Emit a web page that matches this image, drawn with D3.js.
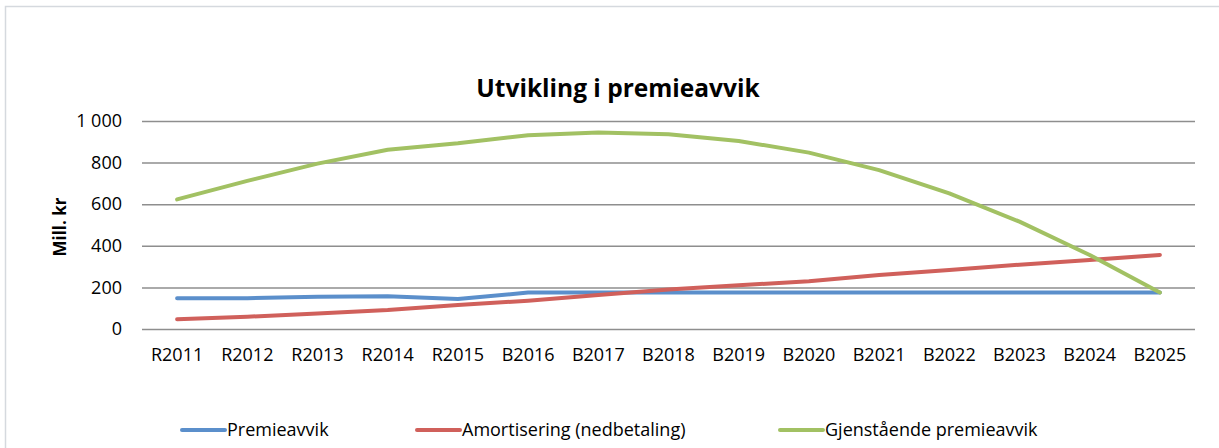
<!DOCTYPE html>
<meta charset="utf-8">
<style>
  body { margin: 0; background: #fff; }
  svg text { font-family: "Open Sans", sans-serif; fill: #000; }
</style>
<script src="https://cdnjs.cloudflare.com/ajax/libs/d3/7.8.5/d3.min.js"></script>
<div id="chart"></div>
<script>
// categories and series (Mill. kr)
var years = ["R2011","R2012","R2013","R2014","R2015","B2016","B2017","B2018",
             "B2019","B2020","B2021","B2022","B2023","B2024","B2025"];
var premieavvik = [148,148,155,158,144,175,175,175,175,175,175,175,175,175,175];
var amortisering = [47,59,75,91,115,136,163,190,210,230,260,284,309,332,356];
var gjenstaende = [623,712,795,862,893,932,945,936,904,848,764,652,516,356,175];
var yTicks = [0,200,400,600,800,1000];

var series = [
  {name: "Premieavvik", values: premieavvik, color: "#5b8fcb"},
  {name: "Amortisering (nedbetaling)", values: amortisering, color: "#d0605b"},
  {name: "Gjenstående premieavvik", values: gjenstaende, color: "#a2c163"}
];

var W = 1219, H = 448;
var margin = {top: 121, right: 24, bottom: 119, left: 142};

var svg = d3.select("#chart").append("svg")
    .attr("width", W)
    .attr("height", H);

// chart frame
svg.append("path")
    .attr("d", "M5.5," + H + "V6.5H" + W)
    .attr("fill", "none")
    .attr("stroke", "#d5d9de")
    .attr("stroke-width", 1.5);

var x = d3.scaleBand()
    .domain(years)
    .range([margin.left, W - margin.right]);

var y = d3.scaleLinear()
    .domain([0, 1000])
    .range([H - margin.bottom, margin.top]);

// gridlines + y labels
var yAxis = svg.append("g")
    .attr("transform", "translate(" + margin.left + ",0)")
    .call(d3.axisLeft(y)
      .tickValues(yTicks)
      .tickSize(-(W - margin.right - margin.left))
      .tickPadding(20)
      .tickFormat(function(d) { return d3.format(",")(d).replace(",", " "); }));
yAxis.select(".domain").remove();
yAxis.selectAll("line").attr("stroke", "#8e8e8e").attr("stroke-width", 1.5);
yAxis.selectAll("text").attr("font-size", 18).attr("font-family", "Open Sans");

// x labels
var xAxis = svg.append("g")
    .attr("transform", "translate(0," + (H - margin.bottom) + ")")
    .call(d3.axisBottom(x).tickSize(0).tickPadding(19));
xAxis.select(".domain").remove();
xAxis.selectAll("text").attr("font-size", 18).attr("font-family", "Open Sans");

// lines
var line = d3.line()
    .x(function(d, i) { return x(years[i]) + x.bandwidth() / 2; })
    .y(function(d) { return y(d); });

svg.selectAll(".myLine")
  .data(series)
  .enter()
  .append("path")
    .attr("class", "myLine")
    .attr("d", function(d) { return line(d.values); })
    .attr("fill", "none")
    .attr("stroke", function(d) { return d.color; })
    .attr("stroke-width", 4)
    .attr("stroke-linejoin", "round")
    .attr("stroke-linecap", "round");

// title
svg.append("text")
    .attr("x", 618)
    .attr("y", 97)
    .attr("text-anchor", "middle")
    .attr("font-size", 24.5)
    .attr("font-weight", "bold")
    .text("Utvikling i premieavvik");

// y axis title
svg.append("text")
    .attr("transform", "translate(66,227) rotate(-90)")
    .attr("text-anchor", "middle")
    .attr("font-size", 17)
    .attr("font-weight", "bold")
    .text("Mill. kr");

// legend
var legendX = [182, 417, 780];
var legend = svg.selectAll(".legend")
  .data(series)
  .enter()
  .append("g")
    .attr("class", "legend")
    .attr("transform", function(d, i) { return "translate(" + legendX[i] + ",430)"; });
legend.append("line")
    .attr("x1", 0).attr("x2", 43)
    .attr("stroke", function(d) { return d.color; })
    .attr("stroke-width", 4)
    .attr("stroke-linecap", "round");
legend.append("text")
    .attr("x", 45)
    .attr("dy", "0.35em")
    .attr("font-size", 18)
    .text(function(d) { return d.name; });
</script>
